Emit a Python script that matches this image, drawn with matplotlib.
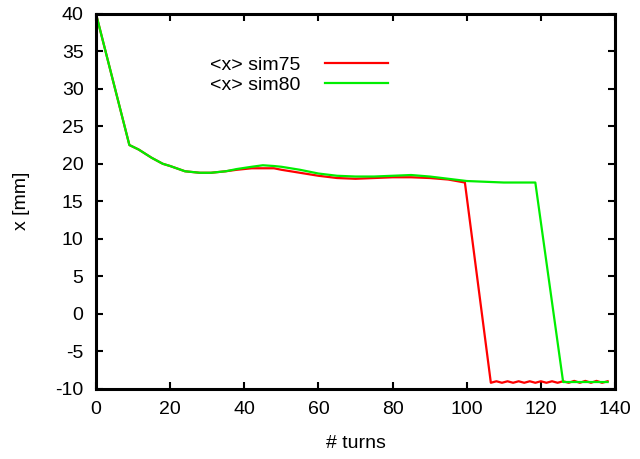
import matplotlib
matplotlib.use("Agg")
import matplotlib.pyplot as plt

# <x> sim75 (red)
turns75 = [0, 9, 11.5, 15, 18, 20, 24, 28, 31, 35, 38, 42, 45, 48, 50, 55, 60, 65, 70,
           75, 80, 85, 90, 95, 99.5, 106.5, 108, 109.5, 111, 112.5, 114, 115.5, 117,
           118.5, 120, 121.5, 123, 124.5, 126, 127.5, 129, 130.5, 132, 133.5, 135,
           136.5, 138]
x75 = [40, 22.5, 21.9, 20.8, 20.0, 19.7, 19.0, 18.8, 18.8, 19.0, 19.2, 19.4, 19.4,
       19.4, 19.2, 18.8, 18.4, 18.1, 18.0, 18.1, 18.2, 18.2, 18.1, 17.9, 17.5, -9.2,
       -9.0, -9.2, -9.0, -9.2, -9.0, -9.2, -9.0, -9.2, -9.0, -9.2, -9.0, -9.2, -9.0,
       -9.2, -8.95, -9.2, -8.95, -9.2, -8.95, -9.2, -9.0]

# <x> sim80 (green)
turns80 = [0, 9, 11.5, 15, 18, 20, 24, 28, 31, 35, 38, 42, 45, 48, 50, 55, 60, 65, 70,
           75, 80, 85, 90, 95, 100, 105, 110, 115, 118.5, 126, 130, 135, 138]
x80 = [40, 22.5, 21.9, 20.8, 20.0, 19.7, 19.0, 18.8, 18.8, 19.0, 19.3, 19.6, 19.8,
       19.7, 19.6, 19.2, 18.7, 18.4, 18.3, 18.3, 18.4, 18.5, 18.3, 18.0, 17.7, 17.6,
       17.5, 17.5, 17.5, -9.1, -9.1, -9.1, -9.1]

xticks = [0, 20, 40, 60, 80, 100, 120, 140]
yticks = [-10, -5, 0, 5, 10, 15, 20, 25, 30, 35, 40]

plt.rcParams['font.family'] = ['Liberation Sans', 'DejaVu Sans']
plt.rcParams['axes.unicode_minus'] = False

fig = plt.figure(figsize=(6.4, 4.59), dpi=100)
ax = fig.add_axes([0.150, 0.153, 0.811, 0.817])

ax.plot(turns75, x75, color='#ff0000', lw=1.6, label='<x> sim75')
ax.plot(turns80, x80, color='#00ee00', lw=1.6, label='<x> sim80')

ax.set_xlim(0, 140)
ax.set_ylim(-10, 40)
ax.set_xticks(xticks)
ax.set_yticks(yticks)
ax.tick_params(direction='in', length=5, width=1.5, top=True, right=True,
               labelsize=14, pad=9)
for s in ax.spines.values():
    s.set_linewidth(2.2)

ax.set_xlabel('# turns', fontsize=14, labelpad=12)
ax.set_ylabel('x [mm]', fontsize=14, labelpad=18)

ax.legend(loc='upper left', bbox_to_anchor=(0.219, 0.887), frameon=False,
          markerfirst=False, fontsize=14, handlelength=3.2, handletextpad=1.3,
          labelspacing=0.15, borderaxespad=0, borderpad=0)

fig.savefig('out.png', dpi=100)
